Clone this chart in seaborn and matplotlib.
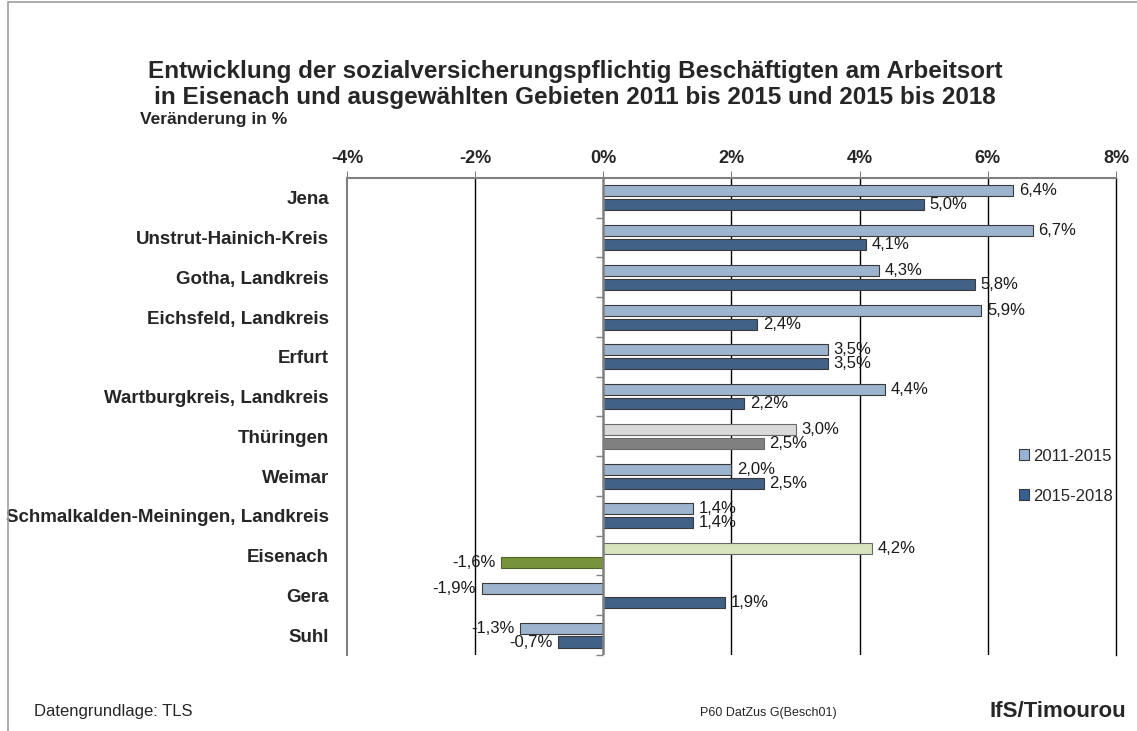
import matplotlib
matplotlib.use('Agg')
import matplotlib.pyplot as plt
from matplotlib.patches import Rectangle, Patch
import seaborn as sns
import pandas as pd

regionen = ['Jena', 'Unstrut-Hainich-Kreis', 'Gotha, Landkreis', 'Eichsfeld, Landkreis',
            'Erfurt', 'Wartburgkreis, Landkreis', 'Thüringen', 'Weimar',
            'Schmalkalden-Meiningen, Landkreis', 'Eisenach', 'Gera', 'Suhl']
v_2011_2015 = [6.4, 6.7, 4.3, 5.9, 3.5, 4.4, 3.0, 2.0, 1.4, 4.2, -1.9, -1.3]
v_2015_2018 = [5.0, 4.1, 5.8, 2.4, 3.5, 2.2, 2.5, 2.5, 1.4, -1.6, 1.9, -0.7]
zeitraeume = ['2011-2015', '2015-2018']
xticks = [-4, -2, 0, 2, 4, 6, 8]

df = pd.DataFrame({
    'Region': regionen * 2,
    'Wert': v_2011_2015 + v_2015_2018,
    'Zeitraum': [zeitraeume[0]] * len(regionen) + [zeitraeume[1]] * len(regionen),
})

sns.set_style('white')
plt.rcParams['font.family'] = ['Liberation Sans', 'DejaVu Sans']

hell, dunkel = '#95B3D7', '#366092'
fig = plt.figure(figsize=(11.37, 7.31), dpi=100)
ax = fig.add_axes([0.3052, 0.104, 0.9815 - 0.3052, 0.7565 - 0.104])

sns.barplot(data=df, y='Region', x='Wert', hue='Zeitraum', orient='h',
            palette=[hell, dunkel], width=0.7, gap=0.2, ax=ax,
            edgecolor='#3a3a3a', linewidth=0.8, legend=False)

# Sonderfarben: Thüringen grau, Eisenach grün
spezial = {'Thüringen': ('#D9D9D9', '#808080'), 'Eisenach': ('#D7E4BD', '#77933C')}
for name, (c1, c2) in spezial.items():
    i = regionen.index(name)
    ax.containers[0][i].set_facecolor(c1)
    ax.containers[1][i].set_facecolor(c2)
ax.containers[0][regionen.index('Thüringen')].set_edgecolor('#6a6a6a')
ax.containers[1][regionen.index('Thüringen')].set_edgecolor('#6a6a6a')
ax.containers[0][regionen.index('Eisenach')].set_edgecolor('#6a6a6a')
ax.containers[1][regionen.index('Eisenach')].set_edgecolor('#4f6228')

for cont, werte in zip(ax.containers, [v_2011_2015, v_2015_2018]):
    labels = [f'{v:.1f}%'.replace('.', ',') for v in werte]
    ax.bar_label(cont, labels=labels, padding=4, fontsize=12, color='#1a1a1a')

ax.set_xlim(-4, 8)
ax.set_ylim(len(regionen) - 0.5, -0.5)
ax.set_xticks(xticks)
ax.set_xticklabels([f'{t}%' for t in xticks], fontsize=13, fontweight='bold')
ax.xaxis.tick_top()
ax.tick_params(axis='x', length=5, color='#808080', pad=3)
ax.tick_params(axis='y', length=0, pad=13)
for lab in ax.get_yticklabels():
    lab.set_fontweight('bold')
    lab.set_fontsize(13.5)
ax.set_xlabel('')
ax.set_ylabel('')

for t in [-2, 2, 4, 6]:
    ax.axvline(t, color='black', lw=1, zorder=0)
ax.axvline(0, color='#808080', lw=1.8, zorder=3)
for s in ['top', 'left']:
    ax.spines[s].set_color('#808080')
    ax.spines[s].set_linewidth(1.5)
ax.spines['right'].set_color('black')
ax.spines['right'].set_linewidth(1)
ax.spines['bottom'].set_visible(False)

# kleine Striche an der Nulllinie
sec = ax.secondary_yaxis(4 / 12)
sec.set_yticks([i + 0.5 for i in range(len(regionen))])
sec.set_yticklabels([])
sec.tick_params(length=5, color='#808080', width=1)
sec.spines['left'].set_visible(False)

handles = [Patch(facecolor=hell, edgecolor='#3a3a3a', lw=0.8),
           Patch(facecolor=dunkel, edgecolor='#3a3a3a', lw=0.8)]
ax.legend(handles, zeitraeume, loc='center', bbox_to_anchor=(0.935, 0.375),
          frameon=False, fontsize=12, handlelength=0.6, handleheight=0.6,
          handletextpad=0.3, labelspacing=1.5)

fig.text(0.506, 0.884, 'Entwicklung der sozialversicherungspflichtig Beschäftigten am Arbeitsort\n'
         'in Eisenach und ausgewählten Gebieten 2011 bis 2015 und 2015 bis 2018',
         ha='center', va='center', fontsize=17.5, fontweight='bold', linespacing=1.18)
fig.text(0.123, 0.837, 'Veränderung in %', ha='left', va='center', fontsize=12.5, fontweight='bold')
fig.text(0.03, 0.027, 'Datengrundlage: TLS', ha='left', va='center', fontsize=12)
fig.text(0.616, 0.025, 'P60 DatZus G(Besch01)', ha='left', va='center', fontsize=9)
fig.text(0.99, 0.027, 'IfS/Timourou', ha='right', va='center', fontsize=16, fontweight='bold')

fig.add_artist(Rectangle((0.007, -0.05), 1.1, 1.047, transform=fig.transFigure,
                         fill=False, edgecolor='#a0a0a0', lw=1.2))

fig.savefig('out.png', dpi=100)
